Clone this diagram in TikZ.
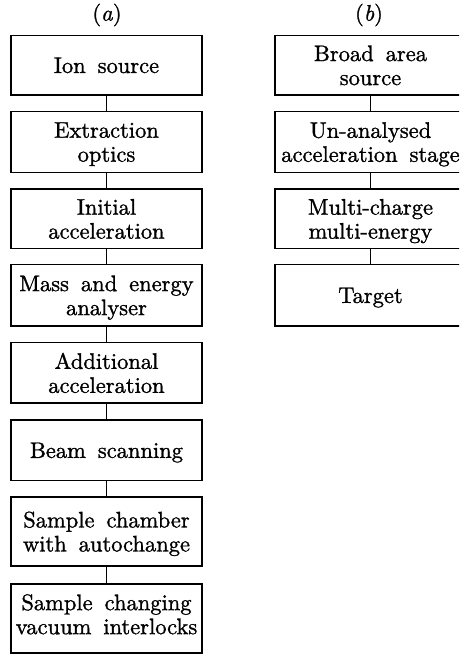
\documentclass[tikz,border=0pt]{standalone}
\usepackage{fontspec}
\setmainfont{lmroman10-regular.otf}[FakeBold=1.2, ItalicFont=lmroman10-italic.otf]
\newcommand\myblkfont{\fontsize{22.5}{24}\selectfont\spaceskip=12pt plus 2pt\relax}
\begin{document}
\begin{tikzpicture}[x=1pt,y=-1pt,
  blk/.style={draw, line width=1.6pt, minimum width=191pt, inner sep=0pt, align=center,
    text depth=0pt, font=\myblkfont},
  lbl/.style={font=\fontsize{22.5}{24}\selectfont},
  lnk/.style={line width=1.6pt}]
\useasboundingbox (0,0) rectangle (459,656);
\clip (0,0) rectangle (459,656);
% column (a)
\node[lbl] (la) at (107,15) {(\textit{a})};
\node[blk, minimum height=59.5pt] (a1) at (106.5,65.25) {Ion source};
\node[blk, minimum height=61pt] (a2) at (106.5,142) {Extraction\\optics};
\node[blk, minimum height=59.6pt] (a3) at (106.5,218.8) {Initial\\acceleration};
\node[blk, minimum height=61.5pt] (a4) at (106.5,295.3) {Mass and energy\\analyser};
\node[blk, minimum height=60.4pt] (a5) at (106.5,372.8) {Additional\\acceleration};
\node[blk, minimum height=60.5pt] (a6) at (106.5,450.2) {Beam scanning};
\node[blk, minimum height=69pt] (a7) at (106.5,531.5) {Sample chamber\\with autochange};
\node[blk, minimum height=69pt, text depth=8.6pt] (a8) at (106.5,618.5) {Sample changing\\vacuum interlocks};
\foreach \i/\j in {a1/a2,a2/a3,a3/a4,a4/a5,a5/a6,a6/a7,a7/a8}
  \draw[lnk] (\i.south) -- (\j.north);
% column (b)
\node[lbl] (lb) at (369,15) {(\textit{b})};
\node[blk, minimum height=59.5pt] (b1) at (370.5,65.25) {Broad area\\source};
\node[blk, minimum height=61pt] (b2) at (370.5,142) {Un-analysed\\acceleration stage};
\node[blk, minimum height=59.6pt] (b3) at (370.5,218.8) {Multi-charge\\multi-energy};
\node[blk, minimum height=61.5pt] (b4) at (370.5,295.3) {Target};
\foreach \i/\j in {b1/b2,b2/b3,b3/b4}
  \draw[lnk] (\i.south) -- (\j.north);
\end{tikzpicture}
\end{document}
